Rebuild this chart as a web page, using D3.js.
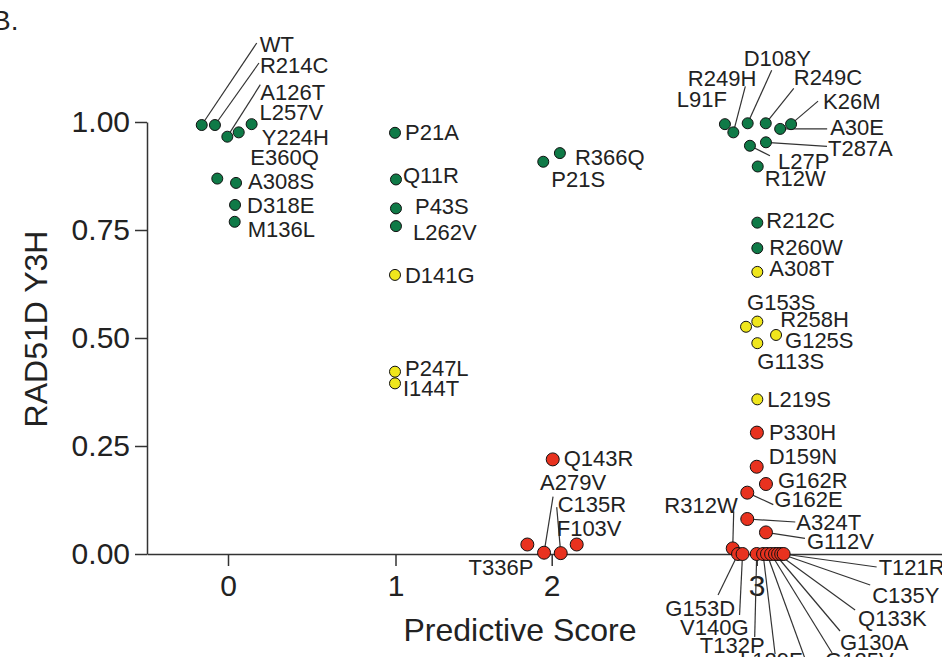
<!DOCTYPE html>
<html lang="en">
<head>
<meta charset="UTF-8">
<script src="https://d3js.org/d3.v7.min.js"></script>
<style>
body { margin: 0; background: #fff; }
text { font-family: "Liberation Sans", Arial, sans-serif; fill: #222; }
.axis path, .axis line { stroke: #333; stroke-width: 1.5px; }
.axis text { font-size: 30px; fill: #222; }
.lbl { font-size: 22px; }
.leader { stroke: #333; stroke-width: 1.2px; }
circle { stroke: #111; stroke-width: 1px; }
</style>
</head>
<body>
<div id="chart"></div>
<script>
// variants, predictive score (x, jittered) and RAD51D Y3H value (y)
const variants = [
  "WT", "R214C", "A126T", "Y224H", "L257V", "E360Q", "A308S", "D318E", "M136L",
  "P21A", "Q11R", "P43S", "L262V", "D141G", "P247L", "I144T", "R366Q", "P21S",
  "Q143R", "T336P", "A279V", "C135R", "F103V",
  "L91F", "R249H", "D108Y", "R249C", "A30E", "K26M", "L27P", "T287A", "R12W",
  "R212C", "R260W", "A308T", "G153S", "R258H", "G125S", "G113S", "L219S",
  "P330H", "D159N", "G162R", "G162E", "A324T", "G112V", "R312W",
  "G153D", "V140G", "T132P", "L129F", "", "G125V", "G130A", "Q133K", "C135Y", "T121R"
];
const scores = [
  -0.157, -0.078, -0.004, 0.064, 0.141, -0.064, 0.048, 0.042, 0.040,
  0.997, 1.003, 1.003, 1.003, 0.997, 0.997, 0.997, 2.040, 1.946,
  2.005, 1.844, 1.951, 2.044, 2.122,
  2.845, 2.886, 2.956, 3.044, 3.114, 3.167, 2.967, 3.045, 3.005,
  3.003, 3.003, 3.003, 2.948, 3.003, 3.094, 3.003, 3.003,
  3.001, 3.000, 3.045, 2.954, 2.954, 3.045, 2.883,
  2.909, 2.931, 3.000, 3.031, 3.050, 3.070, 3.089, 3.104, 3.119, 3.131
];
const y3h = [
  0.993, 0.993, 0.966, 0.976, 0.995, 0.869, 0.859, 0.808, 0.769,
  0.975, 0.867, 0.800, 0.759, 0.646, 0.422, 0.395, 0.928, 0.908,
  0.219, 0.022, 0.003, 0.002, 0.022,
  0.995, 0.976, 0.997, 0.997, 0.984, 0.995, 0.945, 0.953, 0.897,
  0.767, 0.708, 0.653, 0.526, 0.538, 0.507, 0.488, 0.358,
  0.281, 0.202, 0.162, 0.142, 0.081, 0.050, 0.013,
  0, 0, 0, 0, 0, 0, 0, 0, 0, 0
];
// g = functional, y = intermediate, r = damaging
const classes = [
  "g","g","g","g","g","g","g","g","g",
  "g","g","g","g","y","y","y","g","g",
  "r","r","r","r","r",
  "g","g","g","g","g","g","g","g","g",
  "g","g","y","y","y","y","y","y",
  "r","r","r","r","r","r","r",
  "r","r","r","r","r","r","r","r","r","r"
];
const yTicks = [0, 0.25, 0.5, 0.75, 1];
const xTicks = [0, 1, 2, 3];

// label placement relative to the point: [dx, dy, anchor, leaderDx, leaderDy]
const labelLayout = {
  "WT": [58, -73, "start", 55, -82], "R214C": [45, -52, "start", 44, -62],
  "A126T": [33, -37, "start", 33, -52], "L257V": [8, -4, "start"],
  "Y224H": [23, 13, "start"], "E360Q": [33, -14, "start"], "A308S": [12, 6, "start"],
  "D318E": [12, 8, "start"], "M136L": [13, 15, "start"],
  "P21A": [10, 7, "start"], "Q11R": [7, 4, "start"], "P43S": [19, 6, "start"],
  "L262V": [17, 14, "start"], "D141G": [10, 8, "start"], "P247L": [10, 4, "start"],
  "I144T": [8, 13, "start"], "R366Q": [15, 12, "start"], "P21S": [8, 25, "start"],
  "Q143R": [11, 7, "start"], "T336P": [6, 31, "end"], "A279V": [-4, -63, "start", 9, -56],
  "C135R": [-3, -41, "start", -4, -46], "F103V": [-20, -8, "start"],
  "L91F": [2, -17, "end"], "R249H": [23, -46, "end", 12, -46],
  "D108Y": [-4, -57, "start", 24, -53], "R249C": [28, -38, "start", 28, -35],
  "A30E": [50, 6, "start", 47, 0], "K26M": [32, -15, "start", 27, -23],
  "L27P": [28, 23, "start", 20, 10], "T287A": [62, 14, "start", 61, 4],
  "R12W": [7, 20, "start"], "R212C": [9, 5, "start"], "R260W": [12, 7, "start"],
  "A308T": [12, 4, "start"], "G153S": [1, -17, "start"], "R258H": [23, 5, "start"],
  "G125S": [9, 13, "start"], "G113S": [0, 26, "start"], "L219S": [10, 8, "start"],
  "P330H": [12, 7, "start"], "D159N": [12, -3, "start"], "G162R": [12, 4, "start"],
  "G162E": [27, 14, "start", 26, 12], "A324T": [49, 11, "start", 48, 3],
  "G112V": [41, 17, "start", 39, 6], "R312W": [5, -35, "end", 1, -37],
  "G153D": [-3, 62, "end", -20, 41], "V140G": [6, 81, "end", -3, 61],
  "T132P": [8, 99, "end", -2, 83], "L129F": [-23, 114, "start", 12, 100],
  "": [0, 0, "start", 40, 110], "G125V": [54, 114, "start", 61, 99],
  "G130A": [65, 96, "start", 65, 77], "Q133K": [80, 72, "start", 77, 56],
  "C135Y": [91, 49, "start", 89, 31], "T121R": [95, 21, "start", 93, 13]
};

const width = 942, height = 657;
const fillOf = { g: "#0f7a47", y: "#efe61c", r: "#e8321f" };
const radiusOf = { g: 5.5, y: 5.5, r: 6.5 };

const points = variants.map((v, i) => ({ name: v, x: scores[i], y: y3h[i], c: classes[i] }));

// the original axis has uneven tick spacing, so use a piecewise scale
const x = d3.scaleLinear()
  .domain([-0.484, 0, 1, 2, 3, 3.92])
  .range([147, 228, 395.5, 551.7, 756.7, 946]);
const y = d3.scaleLinear().domain([0, 1]).range([554, 122]);

const svg = d3.select("#chart").append("svg")
  .attr("width", width)
  .attr("height", height);

svg.append("text")
  .attr("x", -8).attr("y", 30)
  .style("font-size", "28px")
  .text("B.");

svg.append("g")
  .attr("class", "axis")
  .attr("transform", `translate(0,${y(0)})`)
  .call(d3.axisBottom(x).tickValues(xTicks).tickFormat(d3.format("d"))
    .tickSize(12).tickSizeOuter(0).tickPadding(9));

svg.append("g")
  .attr("class", "axis")
  .attr("transform", `translate(${x(-0.484)},0)`)
  .call(d3.axisLeft(y).tickValues(yTicks).tickFormat(d3.format(".2f"))
    .tickSize(12).tickSizeOuter(0).tickPadding(5));

svg.append("text")
  .attr("x", 520).attr("y", 641)
  .attr("text-anchor", "middle")
  .style("font-size", "32px")
  .text("Predictive Score");

svg.append("text")
  .attr("transform", "translate(47,329) rotate(-90)")
  .attr("text-anchor", "middle")
  .style("font-size", "32px")
  .text("RAD51D Y3H");

// leader lines under the dots
const withLeader = points.filter(d => labelLayout[d.name].length > 3);
svg.append("g").selectAll("line")
  .data(withLeader)
  .join("line")
  .attr("class", "leader")
  .attr("x1", d => x(d.x))
  .attr("y1", d => y(d.y))
  .attr("x2", d => x(d.x) + labelLayout[d.name][3])
  .attr("y2", d => y(d.y) + labelLayout[d.name][4]);

svg.append("g").selectAll("circle")
  .data(points)
  .join("circle")
  .attr("cx", d => x(d.x))
  .attr("cy", d => y(d.y))
  .attr("r", d => radiusOf[d.c])
  .attr("fill", d => fillOf[d.c]);

svg.append("g").selectAll("text")
  .data(points.filter(d => d.name !== ""))
  .join("text")
  .attr("class", "lbl")
  .attr("x", d => x(d.x) + labelLayout[d.name][0])
  .attr("y", d => y(d.y) + labelLayout[d.name][1])
  .attr("text-anchor", d => labelLayout[d.name][2])
  .text(d => d.name);
</script>
</body>
</html>
